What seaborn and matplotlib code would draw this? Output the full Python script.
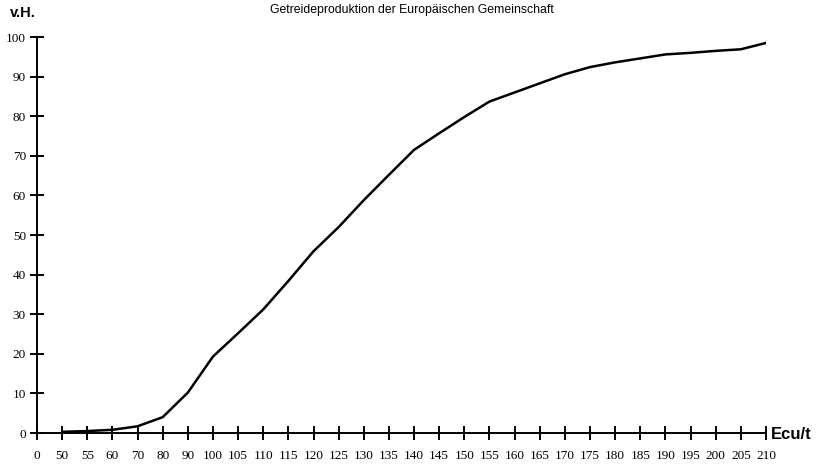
import seaborn as sns
import matplotlib.pyplot as plt

# tick labels on the price axis (evenly spaced, not to scale)
price_ticks = [0, 50, 55, 60, 70, 80, 90, 100, 105, 110, 115, 120, 125, 130, 135,
               140, 145, 150, 155, 160, 165, 170, 175, 180, 185, 190, 195, 200, 205, 210]

# cumulative share of cereal production (v.H.) at each price
prices = [50, 55, 60, 70, 80, 90, 100, 105, 110, 115, 120, 125, 130, 135,
          140, 145, 150, 155, 160, 165, 170, 175, 180, 185, 190, 195, 200, 205, 210]
share = [0.3, 0.5, 0.8, 1.7, 4.0, 10.2, 19.3, 25.2, 31.2, 38.4, 45.9, 52.0, 58.8, 65.2,
         71.5, 75.7, 79.8, 83.7, 86.0, 88.3, 90.6, 92.4, 93.6, 94.6, 95.6, 96.0, 96.5, 96.9, 98.5]

y_ticks = [0, 10, 20, 30, 40, 50, 60, 70, 80, 90, 100]

sns.set_style("white")
plt.rcParams['font.family'] = ['Liberation Serif', 'DejaVu Serif']
plt.rcParams['text.color'] = 'black'
plt.rcParams['xtick.color'] = 'black'
plt.rcParams['ytick.color'] = 'black'

fig = plt.figure(figsize=(8.26, 4.69), dpi=100)
ax = fig.add_axes([37 / 826, 1 - 433 / 469, 729 / 826, 396 / 469])

pos = [price_ticks.index(p) for p in prices]
sns.lineplot(x=pos, y=share, color='black', linewidth=1.8, ax=ax)

ax.set_xlim(0, len(price_ticks) - 1)
ax.set_ylim(0, 100)
ax.set_xticks(range(len(price_ticks)))
ax.set_xticklabels([str(p) for p in price_ticks], fontsize=9.5)
ax.set_yticks(y_ticks)
ax.set_yticklabels([str(v) for v in y_ticks], fontsize=9.5)

for side in ['top', 'right']:
    ax.spines[side].set_visible(False)
for side in ['left', 'bottom']:
    ax.spines[side].set_color('black')
    ax.spines[side].set_linewidth(1.4)

ax.tick_params(axis='both', direction='inout', length=10, width=1.4, color='black',
               labelcolor='black', bottom=True, left=True)
ax.tick_params(axis='x', pad=7)
ax.tick_params(axis='y', pad=3)

fig.text(412 / 826, 1 - 10 / 469, "Getreideproduktion der Europäischen Gemeinschaft",
         ha='center', va='center', fontsize=8.8, family='Liberation Sans')
fig.text(10 / 826, 1 - 13 / 469, "v.H.", ha='left', va='center', fontsize=10.5,
         fontweight='bold', family='Liberation Sans')
fig.text(771 / 826, 1 - 434 / 469, "Ecu/t", ha='left', va='center', fontsize=12,
         fontweight='bold', family='Liberation Sans')

fig.savefig("out.png", dpi=100)
